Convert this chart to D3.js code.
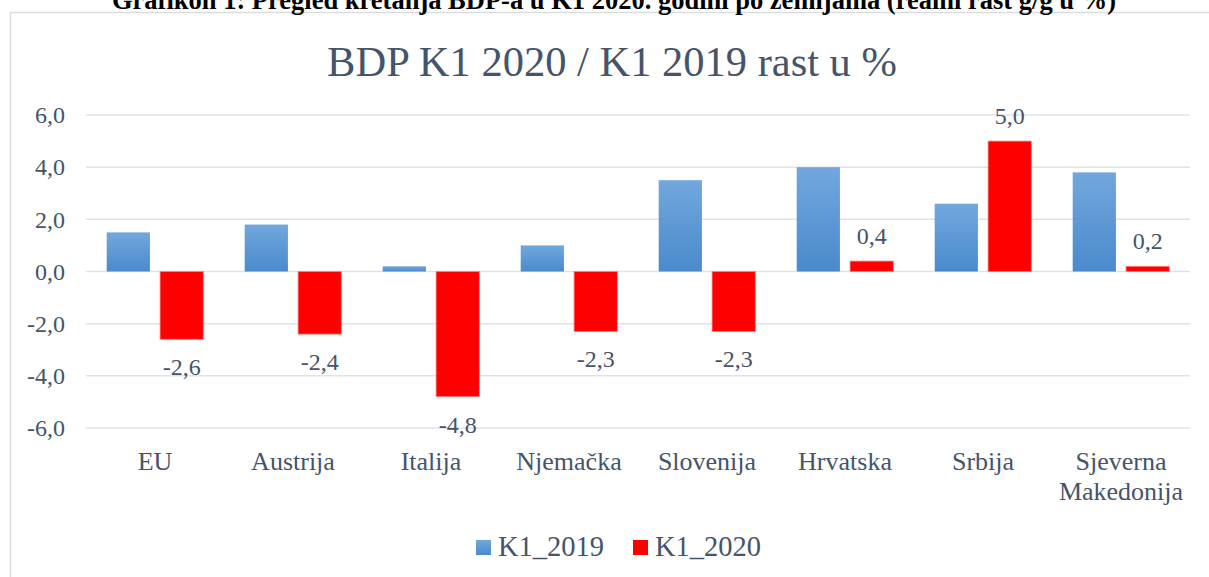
<!DOCTYPE html>
<html>
<head>
<meta charset="utf-8">
<script src="https://cdn.jsdelivr.net/npm/d3@7"></script>
<style>
  body { margin: 0; background: #fff; }
  svg text { font-family: "Liberation Serif", "Times New Roman", serif; }
</style>
</head>
<body>
<div id="chart"></div>
<script>
// data
var countries = ["EU", "Austrija", "Italija", "Njemačka", "Slovenija", "Hrvatska", "Srbija", "Sjeverna Makedonija"];
var k1_2019 = [1.5, 1.8, 0.2, 1.0, 3.5, 4.0, 2.6, 3.8];
var k1_2020 = [-2.6, -2.4, -4.8, -2.3, -2.3, 0.4, 5.0, 0.2];
var seriesNames = ["K1_2019", "K1_2020"];
var yTicks = [-6, -4, -2, 0, 2, 4, 6];

var W = 1209, H = 577;
var margin = {top: 115, right: 19, bottom: 149, left: 86},
    width = W - margin.left - margin.right,
    height = H - margin.top - margin.bottom;

var textCol = "#44546a";
// comma decimals, plain hyphen for minus
var fmt = function(d) { return d3.format(".1f")(d).replace(".", ",").replace("\u2212", "-"); };

var svg = d3.select("#chart").append("svg")
    .attr("width", W)
    .attr("height", H);

var defs = svg.append("defs");
var grad = defs.append("linearGradient")
    .attr("id", "blueGrad")
    .attr("x1", 0).attr("y1", 0).attr("x2", 0).attr("y2", 1);
grad.append("stop").attr("offset", "0%").attr("stop-color", "#72a7dd");
grad.append("stop").attr("offset", "100%").attr("stop-color", "#4a8acc");

// chart frame (runs off the right/bottom edge like the screenshot)
svg.append("rect")
    .attr("x", 10.5).attr("y", 12.5)
    .attr("width", W + 10).attr("height", H + 10)
    .attr("fill", "none")
    .attr("stroke", "#d9dde3")
    .attr("stroke-width", 1.5);

// cut-off caption above the frame
svg.append("text")
    .attr("x", 614).attr("y", 9)
    .attr("text-anchor", "middle")
    .attr("font-weight", "bold")
    .attr("font-size", 26.5)
    .attr("fill", "#000")
    .text("Grafikon 1: Pregled kretanja BDP-a u K1 2020. godini po zemljama (realni rast g/g u %)");

svg.append("text")
    .attr("x", 612).attr("y", 76)
    .attr("text-anchor", "middle")
    .attr("font-size", 42.5)
    .attr("fill", textCol)
    .text("BDP K1 2020 / K1 2019 rast u %");

var g = svg.append("g")
    .attr("transform", "translate(" + margin.left + "," + margin.top + ")");

var y = d3.scaleLinear().domain([-6, 6]).range([height, 0]);
var x0 = d3.scaleBand().domain(countries).range([0, width]).paddingInner(0.3).paddingOuter(0.15);
var x1 = d3.scaleBand().domain(seriesNames).range([0, x0.bandwidth()]).paddingInner(0.19);

// grid
g.selectAll(".grid").data(yTicks).enter().append("line")
    .attr("x1", 0).attr("x2", width)
    .attr("y1", d => y(d)).attr("y2", d => y(d))
    .attr("stroke", "#dfe3e8")
    .attr("stroke-width", 1.5);

// y axis labels
var yAxis = d3.axisLeft(y).tickValues(yTicks).tickFormat(fmt).tickSize(0).tickPadding(21);
var ya = g.append("g").call(yAxis);
ya.attr("font-family", null).attr("font-size", null);
ya.select(".domain").remove();
ya.selectAll("text")
    .attr("font-size", 24)
    .attr("fill", textCol);

// bars
var rows = countries.map((c, i) => ({country: c, vals: [k1_2019[i], k1_2020[i]]}));
var groups = g.selectAll(".grp").data(rows).enter().append("g")
    .attr("transform", d => "translate(" + x0(d.country) + ",0)");

groups.append("rect")
    .attr("x", x1("K1_2019"))
    .attr("width", x1.bandwidth())
    .attr("y", d => y(Math.max(0, d.vals[0])))
    .attr("height", d => Math.abs(y(d.vals[0]) - y(0)))
    .attr("fill", "url(#blueGrad)");

groups.append("rect")
    .attr("x", x1("K1_2020"))
    .attr("width", x1.bandwidth())
    .attr("y", d => y(Math.max(0, d.vals[1])))
    .attr("height", d => Math.abs(y(d.vals[1]) - y(0)))
    .attr("fill", "#ff0000")
    .attr("stroke", "#ff8080")
    .attr("stroke-width", 0.8);

// labels for K1_2020 only
groups.append("text")
    .attr("x", x1("K1_2020") + x1.bandwidth() / 2)
    .attr("y", d => d.vals[1] >= 0 ? y(d.vals[1]) - 17 : y(d.vals[1]) + 36)
    .attr("text-anchor", "middle")
    .attr("font-size", 24)
    .attr("fill", textCol)
    .text(d => fmt(d.vals[1]));

// category labels
var xl = g.selectAll(".cat").data(countries).enter().append("text")
    .attr("x", d => x0(d) + x0.bandwidth() / 2)
    .attr("y", 470 - margin.top)
    .attr("text-anchor", "middle")
    .attr("font-size", 26)
    .attr("fill", textCol);
xl.each(function(d) {
    var words = d === "Sjeverna Makedonija" ? ["Sjeverna", "Makedonija"] : [d];
    var t = d3.select(this);
    words.forEach((w, i) => {
        t.append("tspan")
            .attr("x", x0(d) + x0.bandwidth() / 2)
            .attr("dy", i === 0 ? 0 : 30)
            .text(w);
    });
});

// legend
var legend = svg.append("g").attr("transform", "translate(476,547)");
var legItems = [{name: "K1_2019", fill: "url(#blueGrad)", x: 0}, {name: "K1_2020", fill: "#ff0000", x: 157}];
legItems.forEach(function(l) {
    legend.append("rect")
        .attr("x", l.x).attr("y", -7)
        .attr("width", 15).attr("height", 15)
        .attr("fill", l.fill);
    legend.append("text")
        .attr("x", l.x + 22).attr("y", 9)
        .attr("font-size", 28.5)
        .attr("fill", textCol)
        .text(l.name);
});
</script>
</body>
</html>
